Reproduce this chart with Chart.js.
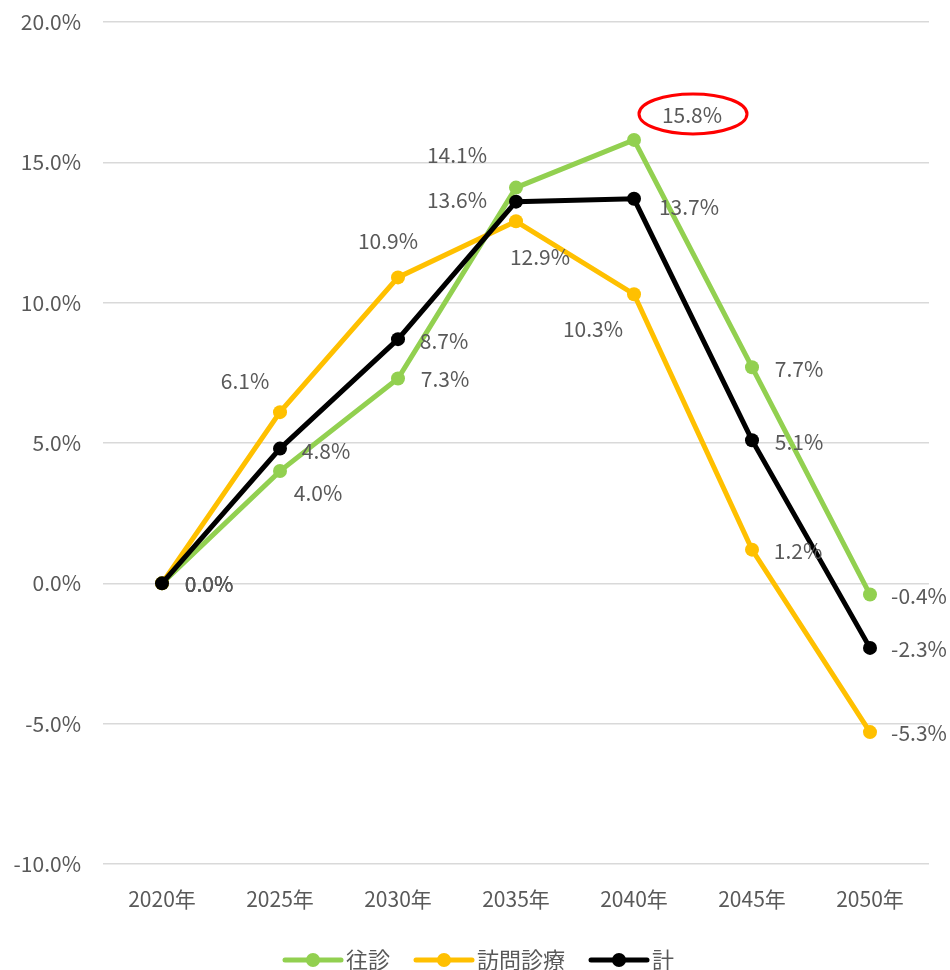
<!DOCTYPE html>
<html>
<head>
<meta charset="utf-8">
<script src="https://cdn.jsdelivr.net/npm/chart.js@4"></script>
<style>
  html, body { margin: 0; padding: 0; background: #ffffff; }
  #wrap { width: 950px; height: 970px; }
</style>
</head>
<body>
<div id="wrap"><canvas id="chart" width="950" height="970"></canvas></div>
<script>
// 年次
const years = ['2020年', '2025年', '2030年', '2035年', '2040年', '2045年', '2050年'];
// 2020年比の増減率 (%)
const oushin = [0.0, 4.0, 7.3, 14.1, 15.8, 7.7, -0.4];
const houmonShinryo = [0.0, 6.1, 10.9, 12.9, 10.3, 1.2, -5.3];
const total = [0.0, 4.8, 8.7, 13.6, 13.7, 5.1, -2.3];
const seriesNames = ['往診', '訪問診療', '計'];
const yMin = -10, yMax = 20, yStep = 5;

const FONT = "'Noto Sans CJK JP', 'Noto Sans', sans-serif";
const TEXT = '#595959';
const colors = ['#92D050', '#FFC000', '#000000'];

// label offsets from each point (px)
const labelOffsets = [
  [[47, 1], [38, 22], [47, 1], [-59, -33], [58, -25], [47, 2], [49, 1]],
  [[47, 1], [-35, -31], [-10, -36], [24, 36], [-41, 35], [46, 1], [49, 1]],
  [[47, 1], [46, 2], [46, 2], [-59, -2], [55, 8], [47, 2], [49, 1]]
];

const dataLabels = {
  id: 'dataLabels',
  afterDatasetsDraw(chart) {
    const ctx = chart.ctx;
    ctx.save();
    ctx.font = '21px ' + FONT;
    ctx.fillStyle = TEXT;
    ctx.textAlign = 'center';
    ctx.textBaseline = 'middle';
    chart.data.datasets.forEach((ds, i) => {
      const meta = chart.getDatasetMeta(i);
      meta.data.forEach((pt, j) => {
        const off = labelOffsets[i][j];
        ctx.fillText(ds.data[j].toFixed(1) + '%', pt.x + off[0], pt.y + off[1]);
      });
    });
    // peak highlight for 往診 2040年
    const peak = chart.getDatasetMeta(0).data[4];
    ctx.strokeStyle = '#FF0000';
    ctx.lineWidth = 3;
    ctx.beginPath();
    ctx.ellipse(peak.x + 59, peak.y - 26, 54, 20, 0, 0, Math.PI * 2);
    ctx.stroke();
    ctx.restore();
  }
};

const lineLegend = {
  id: 'lineLegend',
  afterDraw(chart) {
    const ctx = chart.ctx;
    ctx.save();
    ctx.font = '22px ' + FONT;
    ctx.textBaseline = 'middle';
    let x = 285;
    const y = 960;
    seriesNames.forEach((name, i) => {
      ctx.strokeStyle = colors[i];
      ctx.lineWidth = 5;
      ctx.lineCap = 'round';
      ctx.beginPath();
      ctx.moveTo(x, y);
      ctx.lineTo(x + 56, y);
      ctx.stroke();
      ctx.fillStyle = colors[i];
      ctx.beginPath();
      ctx.arc(x + 28, y, 7, 0, Math.PI * 2);
      ctx.fill();
      ctx.fillStyle = TEXT;
      ctx.fillText(name, x + 61, y);
      x += 61 + ctx.measureText(name).width + 26;
    });
    ctx.restore();
  }
};

const makeSet = (label, data, i) => ({
  label: label,
  data: data,
  borderColor: colors[i],
  backgroundColor: colors[i],
  borderWidth: 5,
  pointRadius: 7,
  pointHoverRadius: 7,
  pointBorderWidth: 0,
  tension: 0,
  order: 2 - i
});

new Chart(document.getElementById('chart'), {
  type: 'line',
  data: {
    labels: years,
    datasets: [
      makeSet(seriesNames[0], oushin, 0),
      makeSet(seriesNames[1], houmonShinryo, 1),
      makeSet(seriesNames[2], total, 2)
    ]
  },
  options: {
    responsive: false,
    animation: false,
    devicePixelRatio: 1,
    layout: { padding: { top: 22, right: 21, bottom: 56, left: 0 } },
    plugins: {
      legend: { display: false },
      tooltip: { enabled: false }
    },
    scales: {
      x: {
        offset: true,
        grid: { display: false },
        border: { display: false },
        ticks: { color: TEXT, font: { family: FONT, size: 21 }, padding: 14 },
        afterFit(scale) {
          scale.height = 50;
          scale.paddingLeft = 0;
          scale.paddingRight = 0;
        }
      },
      y: {
        min: yMin,
        max: yMax,
        grid: { color: '#D9D9D9', lineWidth: 1.5, drawTicks: false },
        border: { display: false },
        ticks: {
          stepSize: yStep,
          color: TEXT,
          font: { family: FONT, size: 21 },
          padding: 22,
          callback: v => v.toFixed(1) + '%'
        },
        afterFit(scale) {
          scale.width = 103;
          scale.paddingTop = 0;
          scale.paddingBottom = 0;
        }
      }
    }
  },
  plugins: [dataLabels, lineLegend]
});
</script>
</body>
</html>
